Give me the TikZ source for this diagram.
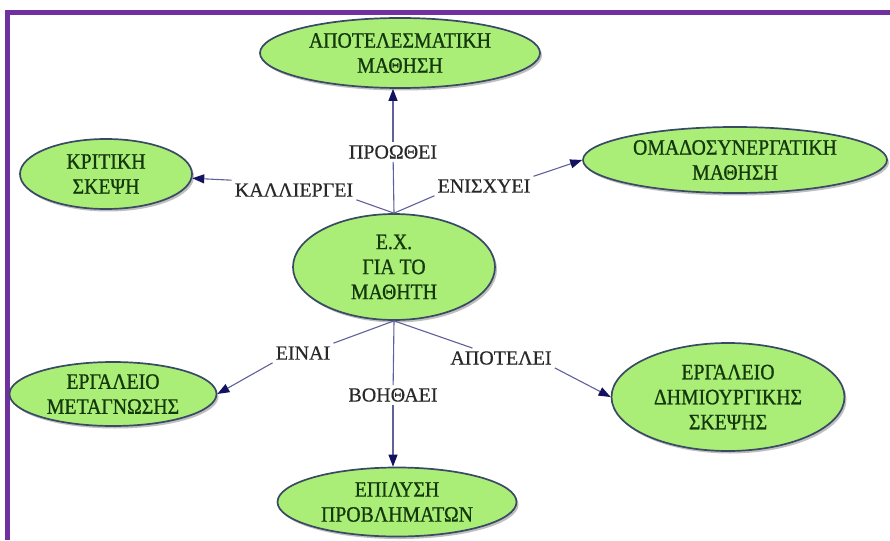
\documentclass[tikz,border=0pt]{standalone}
\usepackage{fontspec}
\setmainfont{Liberation Serif}
\newfontfamily\bubblefont[FakeStretch=0.9,FakeBold=0.8]{Liberation Serif}
\newfontfamily\labelfont[FakeBold=0.4]{Liberation Serif}
\usetikzlibrary{shapes.geometric,arrows.meta,shadows}

\definecolor{framepurple}{RGB}{112,48,160}
\definecolor{bubblefill}{RGB}{170,238,120}
\definecolor{bubbleedge}{RGB}{58,74,100}
\definecolor{bubbletext}{RGB}{20,56,12}
\definecolor{linkline}{RGB}{96,96,156}
\definecolor{linkhead}{RGB}{18,18,96}
\definecolor{labeltext}{RGB}{40,40,40}

\tikzset{
  concept/.style={ellipse, draw=bubbleedge, line width=1.7pt, fill=bubblefill,
    inner sep=0pt, text=bubbletext, align=center,
    font=\bubblefont\fontsize{22}{25}\selectfont,
    drop shadow={shadow xshift=2pt, shadow yshift=-2.5pt, fill=black!45, opacity=0.55}},
  linklabel/.style={inner sep=3pt, text=labeltext, font=\labelfont\fontsize{20}{24}\selectfont},
  link/.style={draw=linkline, line width=1.1pt},
  arrowlink/.style={link, -{Triangle[length=12pt,width=9pt,color=linkhead]}},
}

\begin{document}
\begin{tikzpicture}[x=1pt,y=-1pt]
  \useasboundingbox (0,0) rectangle (890,540);
  \fill[white] (0,0) rectangle (890,540);

  % frame: left and top bars
  \fill[framepurple] (5,10) rectangle (10,540);
  \fill[framepurple] (5,10) rectangle (890,15);

  % concepts
  \node[concept, minimum width=202pt, minimum height=106pt] (ex) at (394,267) {Ε.Χ.\\ΓΙΑ ΤΟ\\ΜΑΘΗΤΗ};
  \node[concept, minimum width=280pt, minimum height=70pt] (apo) at (400,53) {ΑΠΟΤΕΛΕΣΜΑΤΙΚΗ\\ΜΑΘΗΣΗ};
  \node[concept, minimum width=172pt, minimum height=70pt] (krit) at (106,174) {ΚΡΙΤΙΚΗ\\ΣΚΕΨΗ};
  \node[concept, minimum width=304pt, minimum height=66pt] (omad) at (735,160) {ΟΜΑΔΟΣΥΝΕΡΓΑΤΙΚΗ\\ΜΑΘΗΣΗ};
  \node[concept, minimum width=207pt, minimum height=64pt] (metag) at (113,394) {ΕΡΓΑΛΕΙΟ\\ΜΕΤΑΓΝΩΣΗΣ};
  \node[concept, minimum width=233pt, minimum height=108pt] (dimi) at (728,397) {ΕΡΓΑΛΕΙΟ\\ΔΗΜΙΟΥΡΓΙΚΗΣ\\ΣΚΕΨΗΣ};
  \node[concept, minimum width=239pt, minimum height=69pt] (epil) at (397,502) {ΕΠΙΛΥΣΗ\\ΠΡΟΒΛΗΜΑΤΩΝ};

  % link labels
  \node[linklabel] (proothei) at (393,152) {ΠΡΟΩΘΕΙ};
  \node[linklabel] (kal) at (294,190) {ΚΑΛΛΙΕΡΓΕΙ};
  \node[linklabel] (enis) at (484,186) {ΕΝΙΣΧΥΕΙ};
  \node[linklabel] (einai) at (303,353) {ΕΙΝΑΙ};
  \node[linklabel] (voith) at (393,395) {ΒΟΗΘΑΕΙ};
  \node[linklabel] (apot) at (501,358) {ΑΠΟΤΕΛΕΙ};

  % links
  \draw[link] (ex.north) -- (proothei);
  \draw[arrowlink] (proothei) -- (proothei |- apo.south);
  \draw[link] (ex.north) -- (kal.south east);
  \draw[arrowlink] (kal.north west) -- (krit);
  \draw[link] (ex.north) -- (enis.south west);
  \draw[arrowlink] (enis.north east) -- (omad.west);
  \draw[link] (ex.south) -- (einai.north east);
  \draw[arrowlink] (einai.south west) -- (metag.east);
  \draw[link] (ex.south) -- (voith);
  \draw[arrowlink] (voith) -- (voith |- epil.north);
  \draw[link] (ex.south) -- (apot);
  \draw[arrowlink] (apot.south east) -- (dimi.west);
\end{tikzpicture}
\end{document}
